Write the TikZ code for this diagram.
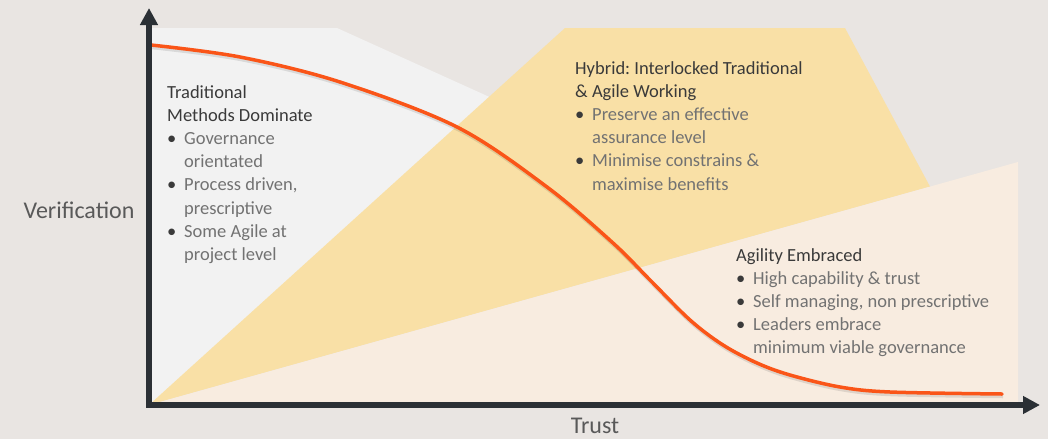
\documentclass[tikz,border=0pt]{standalone}
\usepackage{fontspec}
\setmainfont{Carlito}
\usetikzlibrary{arrows.meta}
\frenchspacing

\definecolor{bgc}{HTML}{E9E5E2}
\definecolor{greyzone}{HTML}{F2F2F2}
\definecolor{hybridzone}{HTML}{F9E0A6}
\definecolor{agilezone}{HTML}{F8ECE0}
\definecolor{curvec}{HTML}{FA5518}
\definecolor{axisc}{HTML}{2B3035}
\definecolor{headc}{HTML}{3A3A3A}
\definecolor{bodyc}{HTML}{727272}
\definecolor{labelc}{HTML}{595959}

% bullet with a fixed indent, and the matching indent for wrapped lines
\newcommand{\bpt}{\makebox[17pt][l]{\color{headc}\textbullet}}
\newcommand{\cont}{\hspace*{17pt}}
\newcommand{\hd}[1]{\textcolor{headc}{#1}}

\begin{document}
\begin{tikzpicture}[x=1pt,y=-1pt,
  axisline/.style={line width=5.5pt, draw=axisc, line join=miter,
    {Triangle[length=17pt,width=17pt]}-{Triangle[length=17pt,width=17pt]}},
  trendline/.style={line width=3.5pt, draw=curvec, line cap=round},
  trendshadow/.style={line width=3.5pt, draw=black, opacity=0.10},
  block/.style={anchor=base west, inner sep=0pt, text=bodyc,
    font=\fontsize{18.5}{23.2}\selectfont},
  axislabel/.style={inner sep=0pt, text=labelc, font=\fontsize{24}{28}\selectfont}]

% canvas
\fill[bgc] (0,0) rectangle (1048,439);
\useasboundingbox (0,0) rectangle (1048,439);

% named corners of the chart
\coordinate (O) at (149,405);
\coordinate (xend) at (1040,405);
\coordinate (yend) at (149,8);

% zones: traditional, hybrid, agile
\fill[greyzone] (O) -- (149,28) -- (337,28) -- (600,147) -- cycle;
\fill[hybridzone] (O) -- (565,28) -- (845,28) -- (930,186.6) -- cycle;
\fill[agilezone] (O) -- (1018,162) -- (1018,405) -- cycle;

% verification versus trust curve
\def\trendpts{(151,45) (240,57) (340,82) (457,127) (547,187) (613,243)
  (650,280) (690,320) (723,345) (757,363) (790,375) (840,387) (890,392)
  (1002,394)}
\draw[trendshadow, shift={(1,2.5)}] plot[smooth, tension=0.55] coordinates {\trendpts};
\draw[trendline] plot[smooth, tension=0.55] coordinates {\trendpts};

% axes
\draw[axisline] (yend) -- (O) -- (xend);

% axis labels
\node[axislabel] (vlab) at (79,210) {Verification};
\node[axislabel] (tlab) at (595,426) {Trust};

% zone descriptions
\node[block] (trad) at (167,98) {\parbox[t]{320pt}{\raggedright
  \hd{Traditional}\\
  \hd{Methods Dominate}\\
  \bpt Governance\\
  \cont orientated\\
  \bpt Process driven,\\
  \cont prescriptive\\
  \bpt Some Agile at\\
  \cont project level}};

\node[block] (hyb) at (575,74) {\parbox[t]{320pt}{\raggedright
  \hd{Hybrid: Interlocked Traditional}\\
  \hd{\& Agile Working}\\
  \bpt Preserve an effective\\
  \cont assurance level\\
  \bpt Minimise constrains \&\\
  \cont maximise benefits}};

\node[block] (agi) at (736,261) {\parbox[t]{320pt}{\raggedright
  \hd{Agility Embraced}\\
  \bpt High capability \& trust\\
  \bpt Self managing, non prescriptive\\
  \bpt Leaders embrace\\
  \cont minimum viable governance}};

\end{tikzpicture}
\end{document}
